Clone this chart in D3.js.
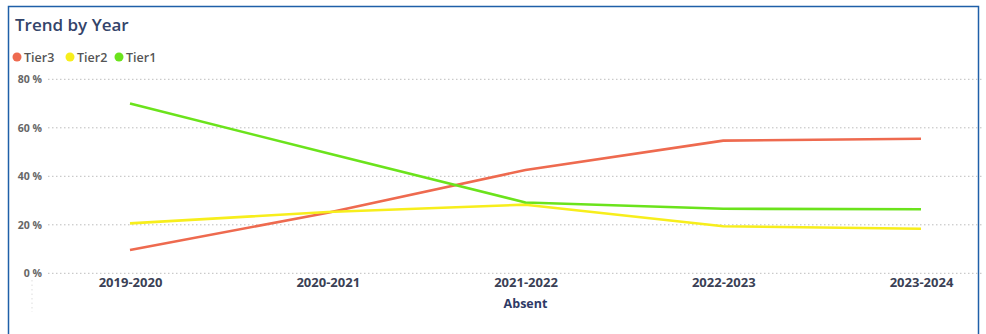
<!DOCTYPE html>
<html>
<head>
<meta charset="utf-8">
<script src="https://cdn.jsdelivr.net/npm/d3@7"></script>
<style>
  html, body { margin: 0; padding: 0; background: #fff; }
  svg { display: block; font-family: "Open Sans", "Noto Sans", sans-serif; }
</style>
</head>
<body>
<svg id="chart" width="986" height="334"></svg>
<script>
// School years on the x axis
const years = ["2019-2020", "2020-2021", "2021-2022", "2022-2023", "2023-2024"];

// Share of absent students per tier (percent)
const tier3 = [9.6, 25.0, 42.6, 54.7, 55.5];
const tier2 = [20.6, 25.3, 28.3, 19.4, 18.4];
const tier1 = [70.0, 49.5, 29.2, 26.6, 26.4];

const yTicks = [0, 20, 40, 60, 80];

const seriesNames = ["Tier3", "Tier2", "Tier1"];
const seriesColors = ["#EE6A4F", "#F7EE1C", "#6BE31C"];

const series = [
  { name: seriesNames[0], color: seriesColors[0], values: tier3 },
  { name: seriesNames[1], color: seriesColors[1], values: tier2 },
  { name: seriesNames[2], color: seriesColors[2], values: tier1 }
];

const svg = d3.select("#chart");

// Card frame
svg.append("rect")
  .attr("x", 8.5).attr("y", 6.5)
  .attr("width", 970).attr("height", 340)
  .attr("fill", "none")
  .attr("stroke", "#1F5FA8")
  .attr("stroke-width", 1.5);

// Title
svg.append("text")
  .attr("x", 15).attr("y", 31)
  .attr("font-size", 17)
  .attr("font-weight", 600)
  .attr("fill", "#34446A")
  .text("Trend by Year");

// Legend
const legendX = [17, 70, 119];
const legend = svg.append("g");
series.forEach((s, i) => {
  const g = legend.append("g").attr("transform", `translate(${legendX[i]},57)`);
  g.append("circle").attr("r", 4.5).attr("fill", s.color);
  g.append("text")
    .attr("x", 7).attr("y", 4.5)
    .attr("font-size", 12.5)
    .attr("font-weight", 600)
    .attr("fill", "#555")
    .text(s.name);
});

// Scales
const x = d3.scalePoint().domain(years).range([130, 921]);
const y = d3.scaleLinear().domain([0, 80]).range([273.3, 79.3]);

// Dotted gridlines
svg.append("g")
  .selectAll("line")
  .data(yTicks)
  .join("line")
  .attr("x1", 48).attr("x2", 982)
  .attr("y1", d => y(d)).attr("y2", d => y(d))
  .attr("stroke", "#bdbdbd")
  .attr("stroke-width", 1)
  .attr("stroke-dasharray", "1.5,2.5");

// Y axis labels
const yAxis = d3.axisLeft(y).tickValues(yTicks).tickSize(0).tickPadding(0)
  .tickFormat(d => d + " %");
svg.append("g")
  .attr("transform", "translate(42,0)")
  .call(yAxis)
  .call(g => g.select(".domain").remove())
  .call(g => g.selectAll("text")
    .attr("font-size", 10.5)
    .attr("font-weight", 700)
    .attr("fill", "#666")
    .attr("font-family", "\"Open Sans\", sans-serif"));

// X axis labels
const xAxis = d3.axisBottom(x).tickSize(0).tickPadding(0);
svg.append("g")
  .attr("transform", "translate(0,278)")
  .call(xAxis)
  .call(g => g.select(".domain").remove())
  .call(g => g.selectAll("text")
    .attr("font-size", 13)
    .attr("font-weight", 700)
    .attr("fill", "#3A3F55")
    .attr("font-family", "\"Open Sans\", sans-serif"));

// Axis title
svg.append("text")
  .attr("x", x("2021-2022")).attr("y", 308)
  .attr("text-anchor", "middle")
  .attr("font-size", 12.5)
  .attr("font-weight", 700)
  .attr("fill", "#2E3A66")
  .text("Absent");

// Faint vertical guide near the axis corner
svg.append("line")
  .attr("x1", 32).attr("x2", 32)
  .attr("y1", 280).attr("y2", 312)
  .attr("stroke", "#ddd")
  .attr("stroke-dasharray", "1.5,3");

// Lines
const line = d3.line()
  .x((d, i) => x(years[i]))
  .y(d => y(d));

svg.append("g")
  .selectAll("path")
  .data(series)
  .join("path")
  .attr("d", d => line(d.values))
  .attr("fill", "none")
  .attr("stroke", d => d.color)
  .attr("stroke-width", 2.6)
  .attr("stroke-linejoin", "round");
</script>
</body>
</html>
